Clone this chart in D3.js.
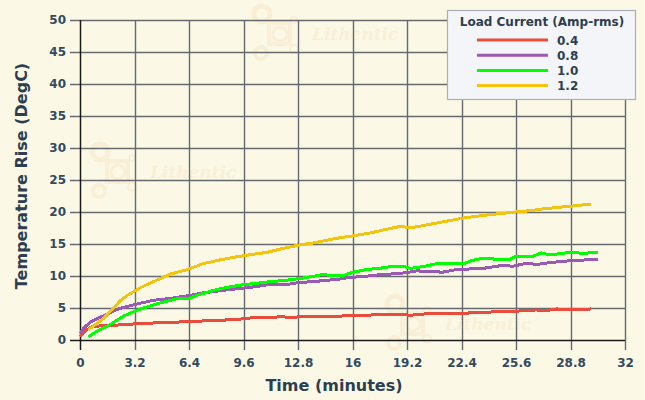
<!DOCTYPE html>
<html>
<head>
<meta charset="utf-8">
<script src="https://cdn.jsdelivr.net/npm/d3@7"></script>
<style>
  body { margin: 0; background: #fbf9e5; }
  svg { display: block; font-family: "DejaVu Sans", Verdana, sans-serif; }
  .tick text { font-weight: bold; fill: #34495e; font-size: 12px; }
</style>
</head>
<body>
<div id="chart"></div>
<script>
// time (minutes), temperature rise (DegC)
var load04 = [[0,0.6],[0.4,1.6],[0.7,2.1],[1.2,2.2],[1.7,2.2],[2.6,2.45],[3.6,2.55],[4.6,2.7],[5.6,2.8],[6.6,2.85],[7.3,3.0],[8.4,3.1],[9.6,3.3],[10.0,3.45],[11.0,3.5],[11.9,3.65],[12.3,3.5],[12.8,3.6],[14.0,3.65],[15.2,3.7],[15.9,3.9],[17,3.9],[18.8,4.0],[19.4,3.85],[20.0,4.05],[21.7,4.15],[22.7,4.2],[23.7,4.35],[24.6,4.4],[25.6,4.5],[26.8,4.7],[27.2,4.55],[28,4.85],[28.5,4.75],[29.5,4.8],[30,4.85]];
var load08 = [[0,1.0],[0.2,1.8],[0.6,2.8],[1.3,3.7],[2.3,4.9],[3.3,5.6],[4.3,6.2],[5.3,6.5],[6.3,6.9],[7.2,7.35],[8.2,7.7],[9.2,8.0],[10.2,8.3],[11.2,8.7],[12,8.6],[12.8,8.95],[14,9.2],[15.2,9.5],[15.9,9.8],[16.6,9.9],[17.6,10.2],[18.8,10.4],[19.8,10.8],[20.5,10.7],[21.3,10.6],[22.1,11.0],[23.7,11.2],[24.9,11.7],[25.4,11.5],[26.2,12.0],[26.8,11.8],[27.6,12.1],[28.8,12.4],[29.6,12.5],[30.4,12.6]];
var load10 = [[0.5,0.5],[1.0,1.4],[1.7,2.3],[2.6,3.8],[3.6,4.9],[4.6,5.7],[5.6,6.4],[6.4,6.5],[7.0,7.1],[7.9,7.8],[8.6,8.2],[9.5,8.6],[10,8.75],[11.1,9.1],[12.0,9.3],[12.9,9.6],[13.6,9.9],[14.2,10.2],[14.9,10.1],[15.4,10.0],[15.9,10.5],[16.8,11.0],[17.6,11.2],[18.4,11.55],[19.0,11.5],[19.4,11.2],[20.2,11.5],[20.9,11.9],[21.9,12.0],[22.6,12.0],[23.0,12.4],[23.7,12.8],[24.5,12.6],[25.25,12.6],[25.6,13.1],[26.6,13.1],[27.1,13.6],[27.6,13.3],[28.2,13.5],[29,13.75],[29.5,13.5],[30.4,13.75]];
var load12 = [[0.5,1.6],[0.9,2.4],[1.4,3.4],[1.9,4.8],[2.35,6.1],[2.8,7.0],[3.3,7.8],[3.8,8.5],[4.3,9.1],[5.3,10.3],[6.3,11.0],[7.2,11.9],[8.2,12.5],[9.2,13.0],[10.2,13.4],[11.0,13.7],[11.9,14.3],[12.8,14.8],[13.8,15.2],[14.7,15.7],[15.3,16.0],[16.1,16.3],[17,16.7],[18,17.3],[18.9,17.8],[19.3,17.5],[20,17.8],[21,18.3],[22.4,19.0],[23.2,19.3],[24.1,19.6],[25.6,20.0],[26.4,20.2],[27.2,20.5],[28.8,20.9],[29.5,21.1],[30,21.25]];

var seriesNames = ["0.4", "0.8", "1.0", "1.2"];
var seriesData = [load04, load08, load10, load12];
var seriesColors = ["#e74c3c", "#9b59b6", "#00ff00", "#f1c40f"];
var xTicks = [0, 3.2, 6.4, 9.6, 12.8, 16, 19.2, 22.4, 25.6, 28.8, 32];
var yTicks = [0, 5, 10, 15, 20, 25, 30, 35, 40, 45, 50];

var W = 645, H = 400;
var margin = {top: 20, right: 20, bottom: 60, left: 80},
    width = W - margin.left - margin.right,
    height = H - margin.top - margin.bottom;

var svg = d3.select("#chart").append("svg")
    .attr("width", W)
    .attr("height", H);

svg.append("rect").attr("width", W).attr("height", H).attr("fill", "#fbf9e5");

// faint watermarks
var marks = [[262, 20], [100, 158], [395, 310]];
marks.forEach(function(m) {
    var g = svg.append("g").attr("transform", "translate(" + m[0] + "," + m[1] + ")")
        .style("opacity", 0.07);
    g.append("circle").attr("cx", 0).attr("cy", -6).attr("r", 8).attr("fill", "none").attr("stroke", "#e8761e").attr("stroke-width", 5);
    g.append("circle").attr("cx", -1).attr("cy", 33).attr("r", 6).attr("fill", "none").attr("stroke", "#e8761e").attr("stroke-width", 4);
    g.append("rect").attr("x", 7).attr("y", 3).attr("width", 21).attr("height", 21).attr("fill", "none").attr("stroke", "#e8761e").attr("stroke-width", 4);
    g.append("circle").attr("cx", 18).attr("cy", 14).attr("r", 7).attr("fill", "none").attr("stroke", "#e8761e").attr("stroke-width", 3);
    g.append("circle").attr("cx", 32).attr("cy", 0).attr("r", 3).attr("fill", "none").attr("stroke", "#e8761e").attr("stroke-width", 2);
    g.append("circle").attr("cx", 32).attr("cy", 29).attr("r", 4).attr("fill", "none").attr("stroke", "#e8761e").attr("stroke-width", 2);
    g.append("text").attr("x", 50).attr("y", 20)
        .style("font-family", "DejaVu Serif, serif").style("font-style", "italic").style("font-weight", "bold")
        .style("font-size", "17px").attr("fill", "#e8761e").text("Lithentic");
});

var plot = svg.append("g").attr("transform", "translate(" + margin.left + "," + margin.top + ")");

var x = d3.scaleLinear().domain([0, 32]).range([0, width]);
var y = d3.scaleLinear().domain([0, 50]).range([height, 0]);

// grid
plot.append("g").selectAll("line").data(yTicks.slice(1)).enter().append("line")
    .attr("x1", -10).attr("x2", width)
    .attr("y1", function(d) { return Math.round(y(d)) + 0.5; })
    .attr("y2", function(d) { return Math.round(y(d)) + 0.5; })
    .attr("stroke", "#666a70").attr("stroke-width", 1.4);
plot.append("g").selectAll("line").data(xTicks.slice(1)).enter().append("line")
    .attr("x1", function(d) { return Math.round(x(d)) + 0.5; })
    .attr("x2", function(d) { return Math.round(x(d)) + 0.5; })
    .attr("y1", 0).attr("y2", height + 10)
    .attr("stroke", "#666a70").attr("stroke-width", 1.4);

// axes
var xAxis = d3.axisBottom(x).tickValues(xTicks).tickSize(0).tickPadding(18).tickFormat(function(d) { return d; });
var yAxis = d3.axisLeft(y).tickValues(yTicks).tickSize(0).tickPadding(14);
var gx = plot.append("g").attr("transform", "translate(0," + height + ")").call(xAxis);
var gy = plot.append("g").call(yAxis);
gx.select(".domain").remove();
gy.select(".domain").remove();
gx.selectAll(".tick text").style("font-family", "DejaVu Sans").attr("dy", "0.71em");
gy.selectAll(".tick text").style("font-family", "DejaVu Sans");

plot.append("line").attr("x1", -10).attr("x2", width).attr("y1", height + 0.5).attr("y2", height + 0.5)
    .attr("stroke", "#1b1b1b").attr("stroke-width", 1.5);
plot.append("line").attr("x1", 0.5).attr("x2", 0.5).attr("y1", 0).attr("y2", height + 10)
    .attr("stroke", "#1b1b1b").attr("stroke-width", 1.5);

// lines
var line = d3.line()
    .x(function(d) { return x(d[0]); })
    .y(function(d) { return y(d[1]); });

plot.append("g").selectAll("path").data(seriesData).enter().append("path")
    .attr("d", line)
    .attr("fill", "none")
    .attr("stroke", function(d, i) { return seriesColors[i]; })
    .attr("stroke-width", 3)
    .attr("shape-rendering", "crispEdges");

// axis titles
svg.append("text")
    .attr("x", 334).attr("y", 391)
    .attr("text-anchor", "middle")
    .style("font-size", "16px").style("font-weight", "bold").attr("fill", "#2c3e50")
    .text("Time (minutes)");
svg.append("text")
    .attr("transform", "translate(27,176) rotate(-90)")
    .attr("text-anchor", "middle")
    .style("font-size", "16px").style("font-weight", "bold").attr("fill", "#2c3e50")
    .text("Temperature Rise (DegC)");

// legend
var legend = svg.append("g").attr("transform", "translate(447,10)");
legend.append("rect").attr("x", 0.5).attr("y", 0.5).attr("width", 188).attr("height", 89)
    .attr("fill", "#f4f5f8").attr("stroke", "#a9afb8").attr("stroke-width", 1.2);
legend.append("text").attr("x", 95).attr("y", 15.5).attr("text-anchor", "middle")
    .style("font-size", "12px").style("font-weight", "bold").attr("fill", "#2c3e50")
    .text("Load Current (Amp-rms)");
var items = legend.selectAll(".item").data(seriesNames).enter().append("g")
    .attr("transform", function(d, i) { return "translate(0," + (30 + i * 15.2) + ")"; });
items.append("line").attr("x1", 30).attr("x2", 101).attr("y1", 0).attr("y2", 0)
    .attr("stroke", function(d, i) { return seriesColors[i]; }).attr("stroke-width", 3);
items.append("text").attr("x", 110).attr("y", 4.5)
    .style("font-size", "12px").style("font-weight", "bold").attr("fill", "#2c3e50")
    .text(function(d) { return d; });
</script>
</body>
</html>
